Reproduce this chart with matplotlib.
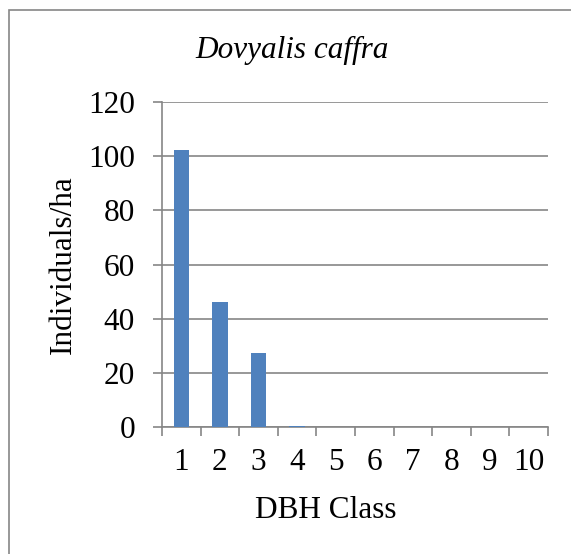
import numpy as np
import matplotlib.pyplot as plt
from matplotlib.patches import Rectangle

# 数据
dbh_class = ["1", "2", "3", "4", "5", "6", "7", "8", "9", "10"]
individuals_ha = [102.3, 46.0, 27.4, 0.5, 0, 0, 0, 0, 0, 0]
yticks = [0, 20, 40, 60, 80, 100, 120]

plt.rcParams["font.family"] = ["Liberation Serif", "DejaVu Serif"]
grey = "#868686"
fs = 22.5

fig = plt.figure(figsize=(5.71, 5.54), dpi=100)
ax = fig.add_axes([0.2837, 0.2292, 0.9597 - 0.2837, 0.8159 - 0.2292])

x = np.arange(len(dbh_class))
ax.bar(x, individuals_ha, width=0.4, color="#4f81bd", zorder=3)

ax.set_xlim(-0.5, len(dbh_class) - 0.5)
ax.set_ylim(0, 120)
ax.set_yticks(yticks)
ax.set_xticks(x)
ax.set_xticklabels(dbh_class)
ax.set_xticks(np.arange(len(dbh_class) + 1) - 0.5, minor=True)
ax.tick_params(axis="x", which="major", length=0, pad=15, labelsize=fs)
ax.tick_params(axis="x", which="minor", length=6.5, width=1.2, color=grey, direction="out")
ax.tick_params(axis="y", length=6.5, width=1.2, color=grey, labelsize=fs, pad=13)

ax.grid(axis="y", color=grey, linewidth=1.2, zorder=0)
for s in ["top", "right"]:
    ax.spines[s].set_visible(False)
for s in ["left", "bottom"]:
    ax.spines[s].set_color(grey)
    ax.spines[s].set_linewidth(1.2)

fig.text(292 / 571, 1 - 50 / 554, "Dovyalis caffra", fontsize=fs, style="italic",
         ha="center", va="center")
fig.text(326 / 571, 1 - 510 / 554, "DBH Class", fontsize=fs, ha="center", va="center")
fig.text(63 / 571, 1 - 265 / 554, "Individuals/ha", fontsize=fs, rotation=90,
         ha="center", va="center")

# 外框
fig.patches.append(Rectangle((9 / 571, -0.1), 1.2, 1 - 10 / 554 + 0.1,
                             transform=fig.transFigure, fill=False,
                             edgecolor=grey, linewidth=1.2))

fig.savefig("out.png", dpi=100)
